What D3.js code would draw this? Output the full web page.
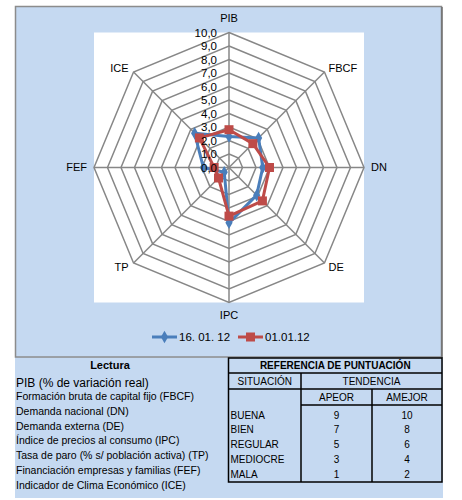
<!DOCTYPE html>
<html><head><meta charset="utf-8">
<script src="https://cdn.jsdelivr.net/npm/d3@7"></script>
<style>body{margin:0;background:#fff;}svg{display:block;font-family:"Liberation Sans",Arial,sans-serif;}</style>
</head><body>
<svg id="c" width="462" height="500"></svg>
<script>
const categories = ["PIB","FBCF","DN","DE","IPC","TP","FEF","ICE"];
const serieA = [2.3,3.1,2.5,2.9,4.1,0.5,1.9,3.6]; // 16. 01. 12
const serieB = [2.8,2.5,3.0,3.5,3.6,1.1,1.1,3.1]; // 01.01.12
const seriesNames = ["16. 01. 12","01.01.12"];
const tickValues = [0,1,2,3,4,5,6,7,8,9,10];
const lecturaRows = ["PIB (% de variación real)","Formación bruta de capital fijo (FBCF)","Demanda nacional (DN)","Demanda externa (DE)","Índice de precios al consumo (IPC)","Tasa de paro (% s/ población activa) (TP)","Financiación empresas y familias (FEF)","Indicador de Clima Económico (ICE)"];
const situaciones = ["BUENA","BIEN","REGULAR","MEDIOCRE","MALA"];
const aPeor = [9,7,5,3,1];
const aMejor = [10,8,6,4,2];

const svg = d3.select("#c");
const BG = "#C5D9F1", BLUE = "#4A7EBB", RED = "#BE4B48", GRID = "#878787";
// background blocks
svg.append("rect").attr("x",15).attr("y",357).attr("width",428).attr("height",141).attr("fill",BG);
svg.append("rect").attr("x",15.5).attr("y",6.5).attr("width",426).attr("height",350.5).attr("fill",BG).attr("stroke","#8c8c8c").attr("stroke-width",1.5);
svg.append("line").attr("x1",442).attr("x2",442).attr("y1",7).attr("y2",358).attr("stroke","#6f6f6f").attr("stroke-width",1.5);

const cx = 229, cy = 167.5, R = 135;
const r = d3.scaleLinear().domain([0,10]).range([0,R]);
const ang = d3.scaleLinear().domain([0,categories.length]).range([0,2*Math.PI]);
const pt = (i,v) => [cx + r(v)*Math.sin(ang(i)), cy - r(v)*Math.cos(ang(i))];

svg.append("rect").attr("x",cx-R).attr("y",cy-R).attr("width",2*R).attr("height",2*R).attr("fill","#fff");

const g = svg.append("g");
// rings
tickValues.filter(t=>t>0).forEach(t=>{
  g.append("path").attr("d", d3.line()(categories.map((c,i)=>pt(i,t))) + "Z")
    .attr("fill","none").attr("stroke",GRID).attr("stroke-width",1.5);
});
// spokes
categories.forEach((c,i)=>{
  const [x,y] = pt(i,10);
  g.append("line").attr("x1",cx).attr("y1",cy).attr("x2",x).attr("y2",y).attr("stroke",GRID).attr("stroke-width",1.5);
});

const line = d3.line();
function drawSeries(vals,color,shape){
  const pts = vals.map((v,i)=>pt(i,v));
  g.append("path").attr("d", line(pts)+"Z").attr("fill","none").attr("stroke",color).attr("stroke-width",3).attr("stroke-linejoin","round");
  pts.forEach(p=>{
    if(shape==="diamond"){
      g.append("path").attr("d",d3.symbol(d3.symbolDiamond,45)()).attr("transform",`translate(${p[0]},${p[1]})`).attr("fill",color);
    } else {
      g.append("rect").attr("x",p[0]-4.5).attr("y",p[1]-4.5).attr("width",9).attr("height",9).attr("fill",color);
    }
  });
}
drawSeries(serieA,BLUE,"diamond");
drawSeries(serieB,RED,"square");

// tick labels
const fmt = v => d3.format(".1f")(v).replace(".",",");
tickValues.forEach(t=>{
  g.append("text").attr("x",cx-12).attr("y",cy-r(t)).attr("dy","0.35em").attr("text-anchor","end")
    .attr("font-size",11.5).attr("fill","#000").text(fmt(t));
});

// category labels
categories.forEach((c,i)=>{
  const [x,y] = pt(i,10);
  const s = Math.sin(ang(i)), co = Math.cos(ang(i));
  let tx=x, ty=y, anchor="middle";
  if (Math.abs(s)<0.01){ ty = co>0 ? y-14 : y+13; }
  else if (Math.abs(co)<0.01){ anchor = s>0?"start":"end"; tx = s>0? x+7 : x-7; }
  else { anchor = s>0?"start":"end"; tx = s>0? x+4 : x-5; ty = co>0 ? y-4 : y+4; }
  g.append("text").attr("x",tx).attr("y",ty).attr("dy","0.35em").attr("text-anchor",anchor)
    .attr("font-size",11).attr("fill","#000").text(c);
});

// legend
const leg = svg.append("g").attr("font-size",11.5);
[[152,BLUE,"diamond"],[238,RED,"square"]].forEach((d,k)=>{
  const [x0,color,shape] = d, ly = 337;
  leg.append("line").attr("x1",x0).attr("x2",x0+25).attr("y1",ly).attr("y2",ly).attr("stroke",color).attr("stroke-width",3);
  if(shape==="diamond") leg.append("path").attr("d",d3.symbol(d3.symbolDiamond,45)()).attr("transform",`translate(${x0+12.5},${ly})`).attr("fill",color);
  else leg.append("rect").attr("x",x0+8).attr("y",ly-4.5).attr("width",9).attr("height",9).attr("fill",color);
  leg.append("text").attr("x",x0+27).attr("y",ly).attr("dy","0.35em").text(seriesNames[k]);
});

// Lectura column
const t = svg.append("g").attr("fill","#000");
t.append("text").attr("x",110).attr("y",365.5).attr("dy","0.35em").attr("text-anchor","middle").attr("font-weight","bold").attr("font-size",11).text("Lectura");
const rowY = [382.3,396.7,411.5,426,440.7,455.5,470,485];
lecturaRows.forEach((s,i)=>{
  t.append("text").attr("x",16).attr("y",rowY[i]).attr("dy","0.35em").attr("font-size", i===0?12:10.5).text(s);
});

// reference table
const tb = svg.append("g").attr("fill","none").attr("stroke","#000").attr("stroke-width",1.5);
const X0=228.5, X1=301, X2=372, X3=442, Y0=358, Y1=373, Y2=389, Y3=405, Y4=482;
tb.append("rect").attr("x",X0).attr("y",Y0).attr("width",X3-X0).attr("height",Y4-Y0);
tb.append("line").attr("x1",X0).attr("x2",X3).attr("y1",Y1).attr("y2",Y1);
tb.append("line").attr("x1",X0).attr("x2",X3).attr("y1",Y2).attr("y2",Y2);
tb.append("line").attr("x1",X1).attr("x2",X3).attr("y1",Y3).attr("y2",Y3);
tb.append("line").attr("x1",X1).attr("x2",X1).attr("y1",Y1).attr("y2",Y4);
tb.append("line").attr("x1",X2).attr("x2",X2).attr("y1",Y2).attr("y2",Y4);
const tt = svg.append("g").attr("fill","#000").attr("font-size",10);
tt.append("text").attr("x",(X0+X3)/2).attr("y",365.8).attr("dy","0.35em").attr("text-anchor","middle").attr("font-weight","bold").text("REFERENCIA DE PUNTUACIÓN");
tt.append("text").attr("x",(X0+X1)/2).attr("y",381.3).attr("dy","0.35em").attr("text-anchor","middle").text("SITUACIÓN");
tt.append("text").attr("x",(X1+X3)/2).attr("y",381.3).attr("dy","0.35em").attr("text-anchor","middle").text("TENDENCIA");
tt.append("text").attr("x",(X1+X2)/2).attr("y",397).attr("dy","0.35em").attr("text-anchor","middle").text("APEOR");
tt.append("text").attr("x",(X2+X3)/2).attr("y",397).attr("dy","0.35em").attr("text-anchor","middle").text("AMEJOR");
const refY = [415,429.6,444.3,459.3,474.7];
situaciones.forEach((s,i)=>{
  tt.append("text").attr("x",230.5).attr("y",refY[i]).attr("dy","0.35em").text(s);
  tt.append("text").attr("x",(X1+X2)/2).attr("y",refY[i]).attr("dy","0.35em").attr("text-anchor","middle").text(aPeor[i]);
  tt.append("text").attr("x",(X2+X3)/2).attr("y",refY[i]).attr("dy","0.35em").attr("text-anchor","middle").text(aMejor[i]);
});
</script>
</body></html>
